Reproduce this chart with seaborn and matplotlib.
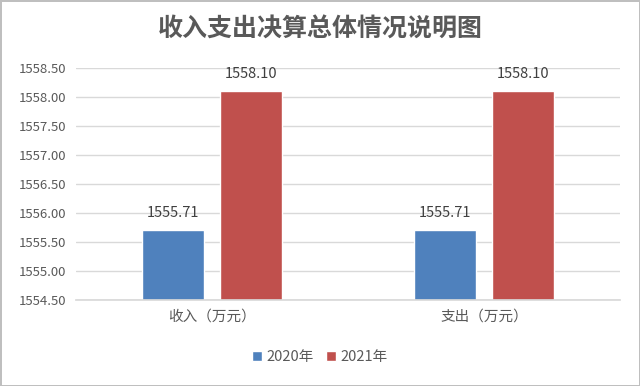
import pandas as pd
import numpy as np
import seaborn as sns
import matplotlib.pyplot as plt

categories = ["收入（万元）", "支出（万元）"]
years = ["2020年", "2021年"]
values_2020 = [1555.71, 1555.71]
values_2021 = [1558.10, 1558.10]
y_ticks = [1554.5, 1555.0, 1555.5, 1556.0, 1556.5, 1557.0, 1557.5, 1558.0, 1558.5]

df = pd.DataFrame({
    "category": categories * 2,
    "year": [years[0]] * 2 + [years[1]] * 2,
    "value": values_2020 + values_2021,
})

sns.set_theme(style="white")
plt.rcParams["font.family"] = ["Noto Sans CJK SC", "DejaVu Sans"]

text_color = "#595959"
fig = plt.figure(figsize=(6.4, 3.86), dpi=100)
fig.patch.set_edgecolor("#BFBFBF")
fig.patch.set_linewidth(2)
ax = fig.add_axes([76 / 640, 1 - 300 / 386, 544 / 640, 232 / 386])

sns.barplot(data=df, x="category", y="value", hue="year",
            palette=["#4F81BD", "#C0504D"], saturation=1,
            width=0.572, gap=0.2, ax=ax, legend=True)

ax.set_ylim(1554.5, 1558.5)
ax.set_xlim(-0.5, 1.5)
ax.set_yticks(y_ticks)
ax.set_yticklabels([f"{t:.2f}" for t in y_ticks], fontsize=9.5, color=text_color)
ax.tick_params(axis="x", labelsize=10.5, colors=text_color, pad=7, length=0)
ax.tick_params(axis="y", length=0, pad=7)
ax.yaxis.grid(True, color="#D9D9D9", linewidth=1)
ax.set_axisbelow(True)
ax.set_xlabel("")
ax.set_ylabel("")
for s in ["top", "right", "left"]:
    ax.spines[s].set_visible(False)
ax.spines["bottom"].set_color("#D9D9D9")

for cont in ax.containers:
    ax.bar_label(cont, fmt="%.2f", padding=7, fontsize=10.5, color="#404040")

ax.legend(loc="center", bbox_to_anchor=(0.5, 1 - 357 / 386),
          bbox_transform=fig.transFigure,
          ncol=2, frameon=False, fontsize=10.5, handlelength=0.7,
          handleheight=0.7, handletextpad=0.3, columnspacing=0.8,
          labelcolor=text_color)

fig.text(0.5, 1 - 30 / 386, "收入支出决算总体情况说明图", ha="center", va="center",
         fontsize=18, fontweight="bold", color=text_color)

fig.savefig("out.png", dpi=100)
